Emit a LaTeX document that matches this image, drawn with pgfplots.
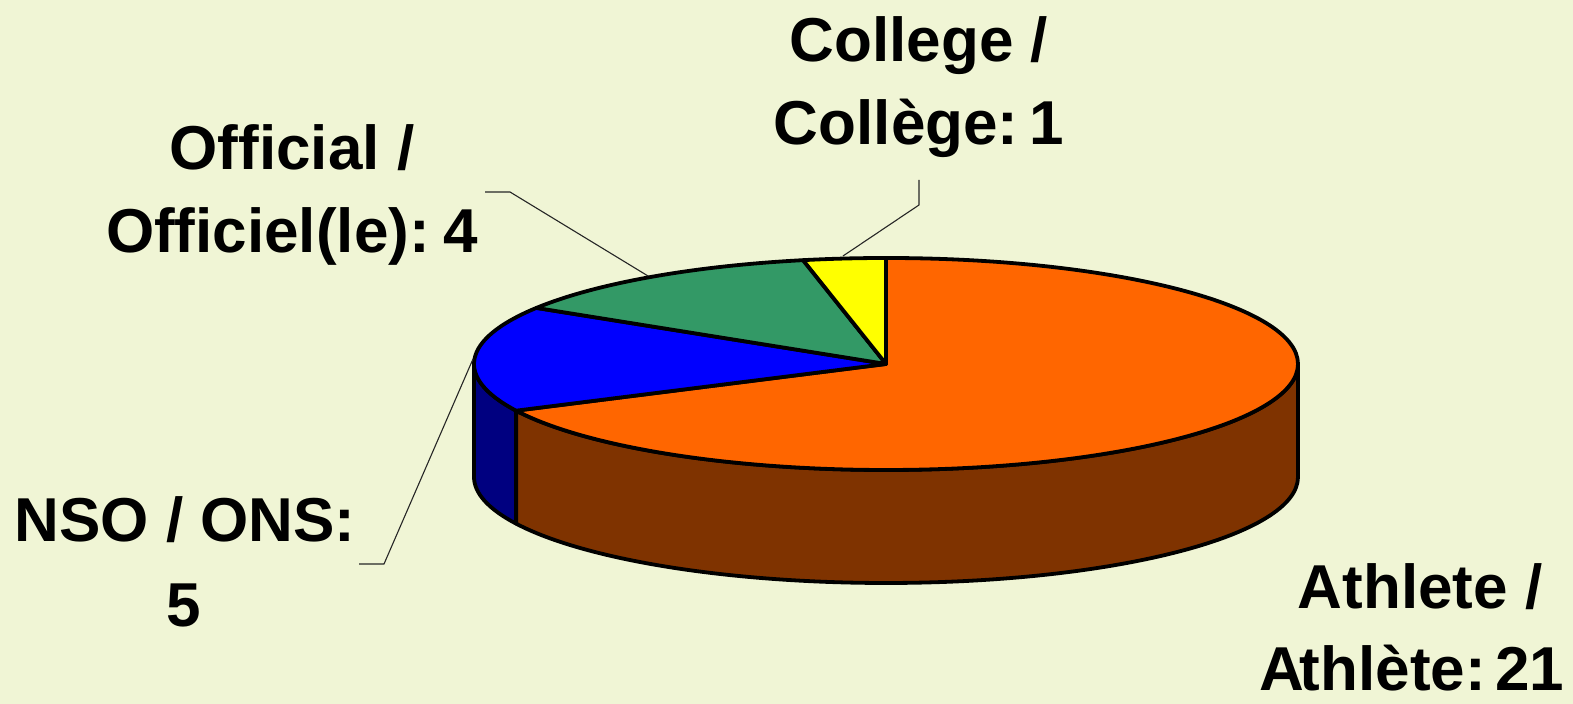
\documentclass[border=0pt]{standalone}
\usepackage{pgfplots}
\pgfplotsset{compat=1.18}
\usepackage{pgfplotstable}
\usepackage{fontspec}
\setmainfont{Liberation Sans}
\definecolor{bg}{HTML}{F0F5D5}
\definecolor{cAth}{HTML}{FF6600}
\definecolor{cAthS}{HTML}{7F3300}
\definecolor{cNSO}{HTML}{0000FF}
\definecolor{cNSOS}{HTML}{000080}
\definecolor{cOff}{HTML}{339966}
\definecolor{cCol}{HTML}{FFFF00}
\begin{document}
\begin{tikzpicture}
\pgfplotstableread{
label value
Athlete 21
NSO 5
Official 4
College 1
}\piedata
\pgfplotstablegetelem{0}{value}\of\piedata \let\vA\pgfplotsretval
\pgfplotstablegetelem{1}{value}\of\piedata \let\vB\pgfplotsretval
\pgfplotstablegetelem{2}{value}\of\piedata \let\vC\pgfplotsretval
\pgfplotstablegetelem{3}{value}\of\piedata \let\vD\pgfplotsretval
\pgfmathsetmacro\tot{\vA+\vB+\vC+\vD}
\pgfmathsetmacro\aA{90}
\pgfmathsetmacro\aB{\aA-360*\vA/\tot}
\pgfmathsetmacro\aC{\aB-360*\vB/\tot}
\pgfmathsetmacro\aD{\aC-360*\vC/\tot}
\pgfmathsetmacro\aE{\aD-360*\vD/\tot}
% geometry (axis units = pixels)
\def\cx{886}\def\cy{340}\def\rx{412}\def\ry{106}\def\dep{113}
\pgfmathsetmacro\cyb{\cy-\dep}
\tikzset{
  edge/.style={draw=black, line width=1.9pt, line join=round},
  lead/.style={draw=black!85, line width=0.55pt},
  lab/.style={anchor=base, inner sep=0pt, font=\bfseries\fontsize{31pt}{37pt}\selectfont},
}
\begin{axis}[x=0.5pt, y=0.5pt, xmin=0, xmax=1573, ymin=0, ymax=704,
  hide axis, clip=false]
\coordinate (SW) at (axis cs:0,0);
\coordinate (NE) at (axis cs:1573,704);
\fill[bg] (axis cs:0,0) rectangle (axis cs:1573,704);
% side walls
\path[edge, fill=cNSOS]
  (axis cs:{\cx+\rx*cos(-180)},{\cy+\ry*sin(-180)})
  arc[start angle=-180, end angle=\aB, x radius=206pt, y radius=53pt]
  -- (axis cs:{\cx+\rx*cos(\aB)},{\cyb+\ry*sin(\aB)})
  arc[start angle=\aB, end angle=-180, x radius=206pt, y radius=53pt]
  -- cycle;
\path[edge, fill=cAthS]
  (axis cs:{\cx+\rx*cos(\aB)},{\cy+\ry*sin(\aB)})
  arc[start angle=\aB, end angle=0, x radius=206pt, y radius=53pt]
  -- (axis cs:{\cx+\rx},{\cyb})
  arc[start angle=0, end angle=\aB, x radius=206pt, y radius=53pt]
  -- cycle;
% top slices
\path[edge, fill=cAth] (axis cs:\cx,\cy)
  -- (axis cs:{\cx+\rx*cos(\aA)},{\cy+\ry*sin(\aA)})
  arc[start angle=\aA, end angle=\aB, x radius=206pt, y radius=53pt] -- cycle;
\path[edge, fill=cNSO] (axis cs:\cx,\cy)
  -- (axis cs:{\cx+\rx*cos(\aB)},{\cy+\ry*sin(\aB)})
  arc[start angle=\aB, end angle=\aC, x radius=206pt, y radius=53pt] -- cycle;
\path[edge, fill=cOff] (axis cs:\cx,\cy)
  -- (axis cs:{\cx+\rx*cos(\aC)},{\cy+\ry*sin(\aC)})
  arc[start angle=\aC, end angle=\aD, x radius=206pt, y radius=53pt] -- cycle;
\path[edge, fill=cCol] (axis cs:\cx,\cy)
  -- (axis cs:{\cx+\rx*cos(\aD)},{\cy+\ry*sin(\aD)})
  arc[start angle=\aD, end angle=\aE, x radius=206pt, y radius=53pt] -- cycle;
% leader lines
\draw[lead] (axis cs:843,448) -- (axis cs:919,499) -- (axis cs:919,524);
\draw[lead] (axis cs:648,428) -- (axis cs:510,512) -- (axis cs:485,512);
\draw[lead] (axis cs:473,345) -- (axis cs:384,140) -- (axis cs:359,140);
% labels
\node[lab] at (axis cs:919,642) {College /};
\node[lab] at (axis cs:919,559) {Collège:\hspace{0.18em}1};
\node[lab] at (axis cs:292,534) {Official /};
\node[lab] at (axis cs:292,451) {Officiel(le):\hspace{0.22em}4};
\node[lab] at (axis cs:185,162) {NSO / ONS:};
\node[lab] at (axis cs:184,77) {5};
\node[lab] at (axis cs:1420,95) {Athlete /};
\node[lab] at (axis cs:1412,13) {A\kern-0.08em thlète:\hspace{0.15em}21};
\end{axis}
\pgfresetboundingbox
\path[use as bounding box] (SW) rectangle (NE);
\end{tikzpicture}
\end{document}
